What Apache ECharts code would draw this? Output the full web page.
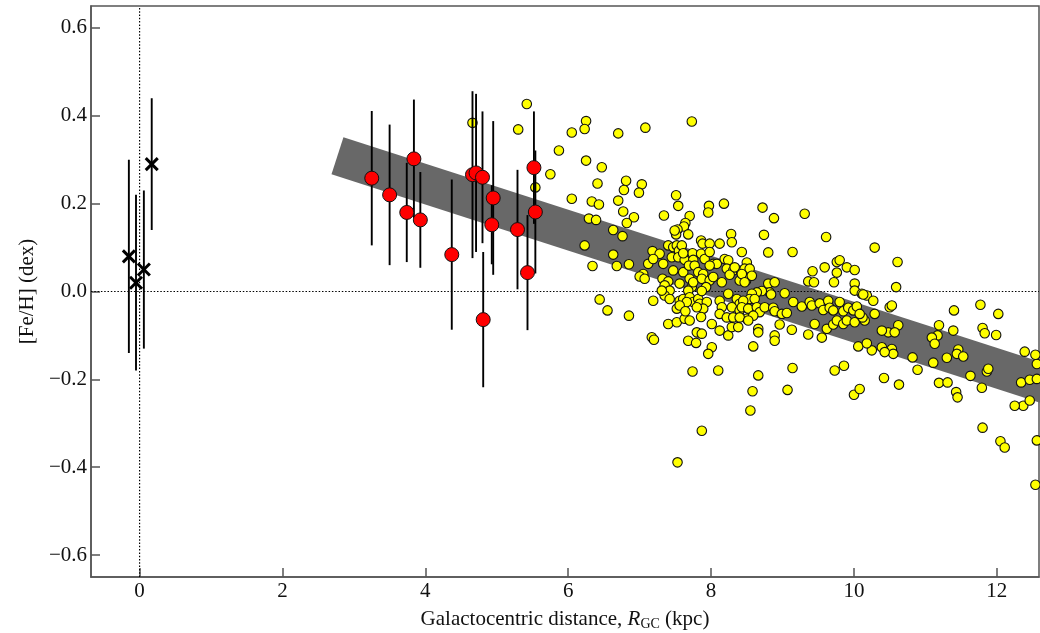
<!DOCTYPE html>
<html>
<head>
<meta charset="utf-8">
<script src="https://cdn.jsdelivr.net/npm/echarts@6/dist/echarts.min.js"></script>
<style>
html,body{margin:0;padding:0;background:#fff;}
#chart{width:1040px;height:633px;}
</style>
</head>
<body>
<div id="chart"></div>
<script>
// ---- axis ranges & ticks ----
const xMin = -0.68, xMax = 12.59;
const yMin = -0.65, yMax = 0.65;
const xTicks = [0, 2, 4, 6, 8, 10, 12];
const yTicks = [-0.6, -0.4, -0.2, 0.0, 0.2, 0.4, 0.6];

// ---- black crosses (with errors) ----
const crossX = [-0.15, -0.05, 0.06, 0.17];
const crossY = [0.08, 0.02, 0.05, 0.29];
const crossErr = [0.22, 0.20, 0.18, 0.15];

// ---- red circles (with errors) ----
const redX = [3.25, 3.50, 3.84, 3.74, 3.93, 4.37, 4.66, 4.71, 4.80, 4.81, 4.95, 4.93, 5.29, 5.43, 5.52, 5.54];
const redY = [0.258, 0.220, 0.302, 0.180, 0.163, 0.084, 0.266, 0.270, 0.260, -0.064, 0.213, 0.152, 0.141, 0.043, 0.282, 0.181];
const redErr = [0.153, 0.160, 0.135, 0.113, 0.109, 0.171, 0.19, 0.18, 0.15, 0.154, 0.175, 0.09, 0.136, 0.131, 0.128, 0.14];

// ---- gradient band (centre line end points) ----
const bandX = [2.77, 13.2];
const bandY = [0.309, -0.238];

// ---- yellow circles [R_GC, [Fe/H]] ----
const yellow = [
[4.66,0.384],[5.42,0.427],[5.30,0.369],[5.54,0.237],
[6.25,0.388],[6.23,0.370],[6.05,0.362],[6.70,0.360],[7.08,0.373],[7.73,0.387],
[5.87,0.321],[6.25,0.298],[6.47,0.283],[5.75,0.267],[6.41,0.246],[6.81,0.252],[7.03,0.244],[6.78,0.231],[6.99,0.225],
[6.05,0.211],[6.33,0.205],[6.43,0.198],[6.70,0.207],[7.51,0.219],[7.54,0.195],[6.77,0.182],[6.92,0.169],[7.34,0.173],[7.70,0.172],[7.97,0.195],[7.96,0.180],[8.18,0.200],[6.29,0.166],[6.39,0.163],
[6.23,0.105],[6.34,0.058],[6.44,-0.018],
[8.72,0.191],[8.88,0.167],[8.74,0.129],[8.80,0.089],[8.28,0.131],[8.29,0.112],[8.12,0.109],[8.43,0.090],[8.50,0.066],
[7.64,0.156],[7.62,0.148],[7.53,0.141],[7.51,0.130],[7.68,0.130],[7.86,0.116],[7.88,0.109],[7.98,0.109],
[6.82,0.156],[6.63,0.140],[6.76,0.126],[6.63,0.084],[6.68,0.058],[6.85,0.062],
[6.55,-0.043],[6.85,-0.055],[7.19,-0.021],[7.05,0.040],[7.00,0.034],[7.12,0.063],[7.18,0.092],[7.28,0.086],[7.40,0.105],[7.47,0.101],[7.49,0.139],
[7.19,0.074],[7.07,0.029],[7.52,0.105],[7.55,0.093],[7.59,0.105],
[7.45,0.078],[7.54,0.078],[7.63,0.072],[7.74,0.087],[7.75,0.072],[7.61,0.087],
[7.86,0.086],[7.91,0.074],[7.98,0.090],[8.03,0.063],[8.08,0.063],
[8.19,0.074],[8.24,0.071],[8.22,0.052],[8.31,0.048],
[8.42,0.044],[8.40,0.025],[8.49,0.025],
[7.33,0.063],[7.47,0.048],[7.61,0.044],[7.69,0.059],[7.77,0.059],[7.82,0.044],[7.89,0.040],[7.98,0.059],
[8.26,0.038],[8.33,0.055],[8.54,0.036],
[7.32,0.029],[7.40,0.023],[7.35,0.014],[7.42,0.002],
[7.70,0.029],[7.73,0.010],[7.75,0.021],[7.68,0.002],
[7.87,0.029],[7.98,0.025],[8.03,0.033],[8.15,0.021],[7.56,0.018],[7.93,0.010],
[7.35,-0.009],[7.42,-0.017],[7.56,-0.021],[7.61,-0.017],[7.70,-0.013],[7.75,-0.024],[7.82,-0.017],[7.84,-0.028],[7.94,-0.024],[7.89,-0.039],[7.80,-0.036],[7.66,-0.024],[7.52,-0.039],[7.56,-0.032],
[8.12,-0.021],[8.24,-0.005],[8.36,-0.017],[8.40,-0.028],[8.29,-0.036],[8.15,-0.036],[8.12,-0.051],[8.22,-0.059],[8.31,-0.059],[8.40,-0.043],[8.50,-0.062],
[7.40,-0.074],[7.52,-0.070],[7.63,-0.062],[7.70,-0.066],[7.86,-0.058],[8.01,-0.074],
[8.12,-0.089],[8.24,-0.100],[8.29,-0.081],[8.38,-0.081],
[7.17,-0.104],[7.20,-0.110],[7.68,-0.112],[7.80,-0.093],[7.87,-0.096],[8.01,-0.127],[7.79,-0.117],
[7.31,0.002],[7.87,0.001],[7.64,-0.045],
[7.74,-0.182],[7.87,-0.317],[7.53,-0.389],[8.10,-0.180],[7.96,-0.142],
[9.61,0.124],[9.14,0.090],[8.47,0.052],[8.54,0.052],[8.57,0.036],[8.43,0.040],[8.47,0.021],
[9.59,0.055],[9.76,0.067],[9.80,0.071],[9.90,0.055],[10.01,0.049],[9.76,0.043],[9.42,0.046],[9.36,0.023],[9.44,0.021],[9.72,0.021],
[8.80,0.018],[8.89,0.021],[8.82,-0.002],[8.71,0.001],[8.64,-0.002],[8.57,-0.005],[8.54,-0.017],[8.61,-0.017],[8.45,-0.021],[8.84,-0.007],[9.03,-0.004],
[10.01,0.018],[10.01,0.002],[10.11,-0.005],[10.18,-0.009],
[8.43,-0.036],[8.52,-0.039],[8.64,-0.036],[8.68,-0.047],[8.59,-0.055],[8.75,-0.036],[8.87,-0.037],[8.89,-0.045],[8.99,-0.051],[9.06,-0.049],[9.15,-0.024],[9.27,-0.034],[9.38,-0.024],[9.41,-0.032],[9.52,-0.027],[9.57,-0.042],[9.64,-0.021],[9.66,-0.037],[9.71,-0.043],[9.80,-0.024],[9.85,-0.045],[9.92,-0.037],[9.99,-0.043],[10.04,-0.034],
[8.40,-0.059],[8.52,-0.066],[8.66,-0.085],[8.96,-0.075],[9.13,-0.087],[9.45,-0.074],[9.62,-0.085],[9.71,-0.075],[9.76,-0.066],[9.85,-0.074],[9.90,-0.066],[10.01,-0.070],[10.15,-0.066],
[8.89,-0.100],[8.89,-0.112],[9.36,-0.098],[9.55,-0.105],[10.06,-0.125],[8.59,-0.125],[8.66,-0.093],
[9.31,0.177],[10.29,0.100],[10.61,0.067],[10.59,0.010],
[10.13,-0.007],[10.27,-0.021],[10.29,-0.051],[10.50,-0.036],[10.53,-0.032],[10.62,-0.077],[10.48,-0.093],[10.57,-0.093],[10.39,-0.089],[10.39,-0.127],[10.53,-0.131],[10.55,-0.142],[10.25,-0.134],[10.18,-0.118],[10.43,-0.138],[10.12,-0.059],[10.08,-0.051],
[10.82,-0.150],[10.89,-0.178],[11.11,-0.162],[11.19,-0.077],[11.17,-0.100],[11.09,-0.105],[11.13,-0.119],[11.30,-0.151],[11.40,-0.043],[11.39,-0.089],[11.46,-0.132],[11.44,-0.142],[11.53,-0.148],[11.63,-0.192],[11.77,-0.030],[11.80,-0.083],[11.83,-0.095],[11.99,-0.099],[12.02,-0.051],[11.79,-0.219],[11.86,-0.182],[11.88,-0.176],
[11.19,-0.208],[11.31,-0.207],[11.43,-0.229],[11.45,-0.241],
[12.34,-0.207],[12.46,-0.201],[12.37,-0.260],[12.46,-0.248],[12.56,-0.199],[12.56,-0.165],[12.39,-0.137],[12.54,-0.144],[12.25,-0.260],
[11.80,-0.310],[12.05,-0.341],[12.11,-0.355],[12.56,-0.339],[12.54,-0.440],
[8.55,-0.271],[8.58,-0.227],[8.66,-0.191],[9.14,-0.174],[9.07,-0.224],[9.73,-0.180],[9.86,-0.169],[10.00,-0.235],[10.08,-0.222],[10.42,-0.197],[10.63,-0.212]
];

// ---- build option ----
const FONT = '"Liberation Serif", "Times New Roman", serif';
const AX = '#555';
const fmt = v => (v < 0 ? '\u2212' : '') + Math.abs(v).toFixed(1);

const chart = echarts.init(document.getElementById('chart'), null, {renderer: 'canvas'});

const crossData = crossX.map((x, i) => [x, crossY[i], crossErr[i]]);
const redErrData = redX.map((x, i) => [x, redY[i], redErr[i]]);
const redData = redX.map((x, i) => [x, redY[i]]);
const bandData = bandX.map((x, i) => [x, bandY[i]]);

function errBar(params, api) {
  const x = api.value(0), y = api.value(1), e = api.value(2);
  const p1 = api.coord([x, y - e]), p2 = api.coord([x, y + e]);
  return {type: 'line', shape: {x1: p1[0], y1: p1[1], x2: p2[0], y2: p2[1]},
          style: {stroke: '#000', lineWidth: 1.9}};
}
function crossItem(params, api) {
  const p = api.coord([api.value(0), api.value(1)]);
  const s = 6;
  return {type: 'group', children: [
    {type: 'line', shape: {x1: p[0]-s, y1: p[1]-s, x2: p[0]+s, y2: p[1]+s}, style: {stroke: '#000', lineWidth: 3}},
    {type: 'line', shape: {x1: p[0]-s, y1: p[1]+s, x2: p[0]+s, y2: p[1]-s}, style: {stroke: '#000', lineWidth: 3}}
  ]};
}

const option = {
  animation: false,
  backgroundColor: '#fff',
  grid: {left: 91, right: 1, top: 6, bottom: 56, show: true, borderColor: AX, borderWidth: 1.5,
         backgroundColor: 'transparent', containLabel: false, outerBoundsMode: 'none'},
  xAxis: {
    type: 'value', min: xMin, max: xMax,
    splitLine: {show: false},
    axisLine: {show: true, onZero: false, lineStyle: {color: AX, width: 1.5}},
    axisTick: {show: true, inside: true, length: 9, customValues: xTicks, lineStyle: {color: AX, width: 1.5}},
    axisLabel: {customValues: xTicks, color: '#111', fontFamily: FONT, fontSize: 21, margin: 4,
                formatter: v => String(v)},
    name: '{a|Galactocentric distance, }{i|R}{s|GC}{a| (kpc)}',
    nameLocation: 'middle', nameGap: 31,
    nameTextStyle: {
      color: '#111', fontFamily: FONT, fontSize: 21,
      rich: {
        a: {fontFamily: FONT, fontSize: 21, color: '#111'},
        i: {fontFamily: FONT, fontSize: 21, fontStyle: 'italic', color: '#111'},
        s: {fontFamily: FONT, fontSize: 14, color: '#111', padding: [9, 0, 0, 0]}
      }
    }
  },
  yAxis: {
    type: 'value', min: yMin, max: yMax,
    splitLine: {show: false},
    axisLine: {show: true, onZero: false, lineStyle: {color: AX, width: 1.5}},
    axisTick: {show: true, inside: true, length: 9, customValues: yTicks, lineStyle: {color: AX, width: 1.5}},
    axisLabel: {customValues: yTicks, color: '#111', fontFamily: FONT, fontSize: 21, margin: 4, formatter: fmt},
    name: '[Fe/H] (dex)', nameLocation: 'middle', nameGap: 48,
    nameTextStyle: {color: '#111', fontFamily: FONT, fontSize: 21}
  },
  series: [
    {type: 'line', data: bandData, symbol: 'none', silent: true, z: 1, clip: true,
     lineStyle: {color: '#686868', width: 39, cap: 'butt'}},
    {type: 'line', data: [[0, yMin], [0, yMax]], symbol: 'none', silent: true, z: 1,
     lineStyle: {color: '#000', width: 1.2, type: [1.5, 1.8]}},
    {type: 'line', data: [[xMin, 0], [xMax, 0]], symbol: 'none', silent: true, z: 1,
     lineStyle: {color: '#000', width: 1.2, type: [1.5, 1.8]}},
    {type: 'scatter', data: yellow, symbol: 'circle', symbolSize: 9.5, z: 3,
     itemStyle: {color: '#ffff00', borderColor: '#111', borderWidth: 1.1, opacity: 1}},
    {type: 'custom', coordinateSystem: 'cartesian2d', data: redErrData, renderItem: errBar, z: 4},
    {type: 'custom', coordinateSystem: 'cartesian2d', data: crossData, renderItem: errBar, z: 4},
    {type: 'scatter', data: redData, symbol: 'circle', symbolSize: 14, z: 5,
     itemStyle: {color: '#ff0000', borderColor: '#111', borderWidth: 1, opacity: 1}},
    {type: 'custom', coordinateSystem: 'cartesian2d', data: crossData, renderItem: crossItem, z: 6}
  ]
};
chart.setOption(option);
</script>
</body>
</html>
